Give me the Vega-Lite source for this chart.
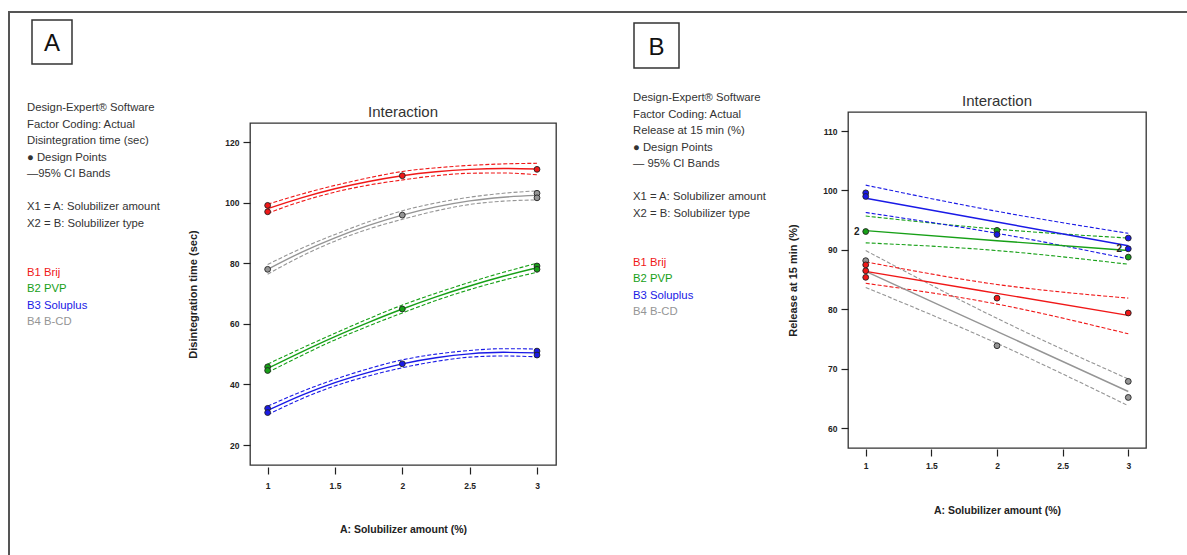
{
  "$schema": "https://vega.github.io/schema/vega-lite/v6.json",
  "padding": {"left": 8, "top": 11, "right": 0, "bottom": 0},
  "background": "white",
  "config": {
    "view": {"stroke": null},
    "font": "Liberation Sans",
    "axis": {"grid": false, "domain": false, "tickColor": "#222", "tickWidth": 1.2, "tickSize": 7, "labelFont": "Liberation Sans", "labelFontWeight": "bold", "labelFontSize": 8.5, "labelColor": "#222", "titleFont": "Liberation Sans", "titleFontWeight": "bold", "titleFontSize": 10.5, "titleColor": "#222"},
    "axisY": {"titleFontSize": 11},
    "title": {"font": "Liberation Sans", "fontSize": 15, "fontWeight": "normal", "color": "#333", "offset": 3}
  },
  "datasets": {
    "legendA": [
      {"line": 0, "text": "Design-Expert® Software", "s": "info"},
      {"line": 1, "text": "Factor Coding: Actual", "s": "info"},
      {"line": 2, "text": "Disintegration time (sec)", "s": "info"},
      {"line": 3, "text": "● Design Points", "s": "info"},
      {"line": 4, "text": "—95% CI Bands", "s": "info"},
      {"line": 6, "text": "X1 = A: Solubilizer amount", "s": "info"},
      {"line": 7, "text": "X2 = B: Solubilizer type", "s": "info"},
      {"line": 10, "text": "B1 Brij", "s": "B1 Brij"},
      {"line": 11, "text": "B2 PVP", "s": "B2 PVP"},
      {"line": 12, "text": "B3 Soluplus", "s": "B3 Soluplus"},
      {"line": 13, "text": "B4 B-CD", "s": "B4 B-CD"}
    ],
    "legendB": [
      {"line": 0, "text": "Design-Expert® Software", "s": "info"},
      {"line": 1, "text": "Factor Coding: Actual", "s": "info"},
      {"line": 2, "text": "Release at 15 min (%)", "s": "info"},
      {"line": 3, "text": "● Design Points", "s": "info"},
      {"line": 4, "text": "— 95% CI Bands", "s": "info"},
      {"line": 6, "text": "X1 = A: Solubilizer amount", "s": "info"},
      {"line": 7, "text": "X2 = B: Solubilizer type", "s": "info"},
      {"line": 10, "text": "B1 Brij", "s": "B1 Brij"},
      {"line": 11, "text": "B2 PVP", "s": "B2 PVP"},
      {"line": 12, "text": "B3 Soluplus", "s": "B3 Soluplus"},
      {"line": 13, "text": "B4 B-CD", "s": "B4 B-CD"}
    ],
    "curveA": [
      {"s": "B1 Brij", "x": 1, "fit": 98.0, "lo": 96.5, "hi": 99.5},
      {"s": "B1 Brij", "x": 1.25, "fit": 101.6, "lo": 100.4, "hi": 102.8},
      {"s": "B1 Brij", "x": 1.5, "fit": 104.6, "lo": 103.5, "hi": 105.7},
      {"s": "B1 Brij", "x": 1.75, "fit": 107.0, "lo": 105.8, "hi": 108.2},
      {"s": "B1 Brij", "x": 2, "fit": 108.9, "lo": 107.5, "hi": 110.3},
      {"s": "B1 Brij", "x": 2.25, "fit": 110.2, "lo": 108.9, "hi": 111.5},
      {"s": "B1 Brij", "x": 2.5, "fit": 111.0, "lo": 109.7, "hi": 112.3},
      {"s": "B1 Brij", "x": 2.75, "fit": 111.3, "lo": 109.8, "hi": 112.8},
      {"s": "B1 Brij", "x": 3, "fit": 111.1, "lo": 109.2, "hi": 113.0},
      {"s": "B4 B-CD", "x": 1, "fit": 78.0, "lo": 76.4, "hi": 79.6},
      {"s": "B4 B-CD", "x": 1.25, "fit": 83.6, "lo": 82.3, "hi": 84.9},
      {"s": "B4 B-CD", "x": 1.5, "fit": 88.4, "lo": 87.3, "hi": 89.5},
      {"s": "B4 B-CD", "x": 1.75, "fit": 92.5, "lo": 91.3, "hi": 93.7},
      {"s": "B4 B-CD", "x": 2, "fit": 95.9, "lo": 94.5, "hi": 97.3},
      {"s": "B4 B-CD", "x": 2.25, "fit": 98.6, "lo": 97.3, "hi": 99.9},
      {"s": "B4 B-CD", "x": 2.5, "fit": 100.6, "lo": 99.4, "hi": 101.8},
      {"s": "B4 B-CD", "x": 2.75, "fit": 101.8, "lo": 100.5, "hi": 103.1},
      {"s": "B4 B-CD", "x": 3, "fit": 102.4, "lo": 100.9, "hi": 103.9},
      {"s": "B2 PVP", "x": 1, "fit": 45.3, "lo": 43.9, "hi": 46.7},
      {"s": "B2 PVP", "x": 1.25, "fit": 50.7, "lo": 49.5, "hi": 51.9},
      {"s": "B2 PVP", "x": 1.5, "fit": 55.8, "lo": 54.7, "hi": 56.9},
      {"s": "B2 PVP", "x": 1.75, "fit": 60.5, "lo": 59.3, "hi": 61.7},
      {"s": "B2 PVP", "x": 2, "fit": 64.9, "lo": 63.6, "hi": 66.2},
      {"s": "B2 PVP", "x": 2.25, "fit": 68.9, "lo": 67.7, "hi": 70.1},
      {"s": "B2 PVP", "x": 2.5, "fit": 72.5, "lo": 71.3, "hi": 73.7},
      {"s": "B2 PVP", "x": 2.75, "fit": 75.7, "lo": 74.4, "hi": 77.0},
      {"s": "B2 PVP", "x": 3, "fit": 78.5, "lo": 77.0, "hi": 80.0},
      {"s": "B3 Soluplus", "x": 1, "fit": 31.4, "lo": 30.0, "hi": 32.8},
      {"s": "B3 Soluplus", "x": 1.25, "fit": 36.4, "lo": 35.2, "hi": 37.6},
      {"s": "B3 Soluplus", "x": 1.5, "fit": 40.6, "lo": 39.5, "hi": 41.7},
      {"s": "B3 Soluplus", "x": 1.75, "fit": 44.0, "lo": 42.8, "hi": 45.2},
      {"s": "B3 Soluplus", "x": 2, "fit": 46.8, "lo": 45.5, "hi": 48.1},
      {"s": "B3 Soluplus", "x": 2.25, "fit": 48.8, "lo": 47.6, "hi": 50.0},
      {"s": "B3 Soluplus", "x": 2.5, "fit": 50.1, "lo": 49.0, "hi": 51.2},
      {"s": "B3 Soluplus", "x": 2.75, "fit": 50.6, "lo": 49.4, "hi": 51.8},
      {"s": "B3 Soluplus", "x": 3, "fit": 50.4, "lo": 49.1, "hi": 51.7}
    ],
    "pointsA": [
      {"s": "B4 B-CD", "x": 1, "v": 78.0},
      {"s": "B4 B-CD", "x": 2, "v": 95.9},
      {"s": "B4 B-CD", "x": 3, "v": 103.1},
      {"s": "B4 B-CD", "x": 3, "v": 101.6},
      {"s": "B1 Brij", "x": 1, "v": 99.1},
      {"s": "B1 Brij", "x": 1, "v": 97.0},
      {"s": "B1 Brij", "x": 2, "v": 108.9},
      {"s": "B1 Brij", "x": 3, "v": 111.0},
      {"s": "B2 PVP", "x": 1, "v": 45.8},
      {"s": "B2 PVP", "x": 1, "v": 44.6},
      {"s": "B2 PVP", "x": 2, "v": 64.9},
      {"s": "B2 PVP", "x": 3, "v": 79.1},
      {"s": "B2 PVP", "x": 3, "v": 78.0},
      {"s": "B3 Soluplus", "x": 1, "v": 32.1},
      {"s": "B3 Soluplus", "x": 1, "v": 30.7},
      {"s": "B3 Soluplus", "x": 2, "v": 46.8},
      {"s": "B3 Soluplus", "x": 3, "v": 51.0},
      {"s": "B3 Soluplus", "x": 3, "v": 49.7}
    ],
    "curveB": [
      {"s": "B4 B-CD", "x": 1, "fit": 86.4, "lo": 83.7, "hi": 89.9},
      {"s": "B4 B-CD", "x": 2, "fit": 76.3, "lo": 74.3, "hi": 78.5},
      {"s": "B4 B-CD", "x": 3, "fit": 66.2, "lo": 63.8, "hi": 68.3},
      {"s": "B1 Brij", "x": 1, "fit": 86.4, "lo": 84.4, "hi": 88.0},
      {"s": "B1 Brij", "x": 2, "fit": 82.7, "lo": 80.9, "hi": 84.2},
      {"s": "B1 Brij", "x": 3, "fit": 79.0, "lo": 75.9, "hi": 81.9},
      {"s": "B2 PVP", "x": 1, "fit": 93.25, "lo": 91.2, "hi": 95.7},
      {"s": "B2 PVP", "x": 2, "fit": 91.55, "lo": 89.9, "hi": 93.5},
      {"s": "B2 PVP", "x": 3, "fit": 89.9, "lo": 87.6, "hi": 92.0},
      {"s": "B3 Soluplus", "x": 1, "fit": 98.7, "lo": 96.3, "hi": 100.9},
      {"s": "B3 Soluplus", "x": 2, "fit": 94.7, "lo": 92.8, "hi": 96.5},
      {"s": "B3 Soluplus", "x": 3, "fit": 90.7, "lo": 88.5, "hi": 92.8}
    ],
    "pointsB": [
      {"s": "B4 B-CD", "x": 1, "v": 88.2},
      {"s": "B4 B-CD", "x": 2, "v": 73.9},
      {"s": "B4 B-CD", "x": 3, "v": 67.9},
      {"s": "B4 B-CD", "x": 3, "v": 65.2},
      {"s": "B1 Brij", "x": 1, "v": 87.5},
      {"s": "B1 Brij", "x": 1, "v": 86.5},
      {"s": "B1 Brij", "x": 1, "v": 85.4},
      {"s": "B1 Brij", "x": 2, "v": 81.9},
      {"s": "B1 Brij", "x": 3, "v": 79.4},
      {"s": "B2 PVP", "x": 1, "v": 93.1},
      {"s": "B2 PVP", "x": 2, "v": 93.3},
      {"s": "B2 PVP", "x": 3, "v": 88.8},
      {"s": "B3 Soluplus", "x": 1, "v": 99.6},
      {"s": "B3 Soluplus", "x": 1, "v": 99.0},
      {"s": "B3 Soluplus", "x": 2, "v": 92.6},
      {"s": "B3 Soluplus", "x": 3, "v": 92.0},
      {"s": "B3 Soluplus", "x": 3, "v": 90.2}
    ],
    "dupB": [
      {"x": 1, "v": 93.1, "label": "2"},
      {"x": 3, "v": 90.2, "label": "2"}
    ]
  },
  "spacing": 0,
  "hconcat": [
    {"width": 2, "height": 544, "data": {"values": []}, "mark": "point", "view": {"fill": "#555555", "stroke": null}},
    {
      "spacing": 6,
      "vconcat": [
        {"width": 1177, "height": 2, "data": {"values": []}, "mark": "point", "view": {"fill": "#555555", "stroke": null}},
        {
          "spacing": 0,
          "hconcat": [
            {"width": 21, "height": 1, "data": {"values": []}, "mark": "point"},
            {"width": 40, "height": 44, "view": {"stroke": "#333333", "strokeWidth": 1.5},
             "data": {"values": [{"label": "A"}]},
             "mark": {"type": "text", "font": "Liberation Sans", "fontSize": 24, "color": "#111111", "align": "center", "baseline": "middle", "dy": 2},
             "encoding": {"text": {"field": "label"}}},
            {"width": 560, "height": 1, "data": {"values": []}, "mark": "point"},
            {
              "spacing": 1,
              "vconcat": [
                {"width": 1, "height": 1, "data": {"values": []}, "mark": "point"},
                {"width": 45, "height": 45, "view": {"stroke": "#333333", "strokeWidth": 1.5},
                 "data": {"values": [{"label": "B"}]},
                 "mark": {"type": "text", "font": "Liberation Sans", "fontSize": 24, "color": "#111111", "align": "center", "baseline": "middle", "dy": 2},
                 "encoding": {"text": {"field": "label"}}},
                {"width": 1, "height": 16, "data": {"values": []}, "mark": "point"}
              ]
            }
          ]
        },
        {
          "spacing": 0,
          "hconcat": [
            {"width": 17, "height": 1, "data": {"values": []}, "mark": "point"},
            {"width": 158.5, "height": 240, "data": {"name": "legendA"},
             "mark": {"type": "text", "align": "left", "baseline": "middle", "font": "Liberation Sans", "fontSize": 11.3},
             "encoding": {
               "x": {"datum": 0, "type": "quantitative", "scale": {"domain": [0, 1], "nice": false}, "axis": null},
               "y": {"field": "line", "type": "quantitative", "scale": {"domain": [-0.97, 13.576], "nice": false, "zero": false, "reverse": true}, "axis": null},
               "text": {"field": "text"},
               "color": {"field": "s", "type": "nominal", "scale": {"domain": ["B1 Brij", "B2 PVP", "B3 Soluplus", "B4 B-CD", "info"], "range": ["#f01818", "#17a017", "#1a1ae6", "#959595", "#333333"]}, "legend": null}
             }},
            {
              "spacing": 11,
              "vconcat": [
                {"width": 1, "height": 1, "data": {"values": []}, "mark": "point"},
                {
                  "width": 306, "height": 342,
                  "view": {"stroke": "#333333", "strokeWidth": 1.3},
                  "title": {"text": "Interaction"},
                  "encoding": {
                    "x": {"field": "x", "type": "quantitative", "scale": {"domain": [0.869, 3.141], "nice": false, "zero": false},
                          "axis": {"title": "A: Solubilizer amount (%)", "values": [1, 1.5, 2, 2.5, 3], "format": "~g", "offset": 2, "labelPadding": 7, "minExtent": 23, "maxExtent": 23, "titlePadding": 34}},
                    "y": {"field": "v", "type": "quantitative", "scale": {"domain": [13.4, 126.3], "nice": false, "zero": false},
                          "axis": {"title": "Disintegration time (sec)", "values": [20, 40, 60, 80, 100, 120], "format": "d", "labelPadding": 4, "minExtent": 26, "maxExtent": 26, "titlePadding": 26}},
                    "color": {"field": "s", "type": "nominal", "scale": {"domain": ["B1 Brij", "B2 PVP", "B3 Soluplus", "B4 B-CD", "info"], "range": ["#f01818", "#17a017", "#1a1ae6", "#959595", "#333333"]}, "legend": null}
                  },
                  "layer": [
                    {"data": {"name": "curveA"},
                     "transform": [{"fold": ["fit", "lo", "hi"], "as": ["band", "v"]}, {"filter": "datum.band !== 'fit'"}],
                     "mark": {"type": "line", "strokeWidth": 1.1, "strokeDash": [4, 2], "interpolate": "monotone"},
                     "encoding": {"detail": {"field": "band"}}},
                    {"data": {"name": "curveA"},
                     "transform": [{"fold": ["fit", "lo", "hi"], "as": ["band", "v"]}, {"filter": "datum.band === 'fit'"}],
                     "mark": {"type": "line", "strokeWidth": 1.4, "interpolate": "monotone"}},
                    {"data": {"name": "pointsA"},
                     "mark": {"type": "point", "shape": "circle", "filled": true, "size": 34, "stroke": "#222222", "strokeWidth": 0.9, "opacity": 1}},
                    {"data": {"values": [{"label": "B: Solubilizer type"}]},
                     "mark": {"type": "text", "font": "Liberation Sans", "fontWeight": "bold", "fontSize": 9.5, "baseline": "middle"},
                     "encoding": {"x": {"datum": 2}, "y": {"datum": 122.3}, "text": {"field": "label"}, "color": {"value": "#222222"}}}
                  ]
                }
              ]
            },
            {"width": 76, "height": 1, "data": {"values": []}, "mark": "point"},
            {"width": 152.5, "height": 240, "data": {"name": "legendB"},
             "mark": {"type": "text", "align": "left", "baseline": "middle", "font": "Liberation Sans", "fontSize": 11.3},
             "encoding": {
               "x": {"datum": 0, "type": "quantitative", "scale": {"domain": [0, 1], "nice": false}, "axis": null},
               "y": {"field": "line", "type": "quantitative", "scale": {"domain": [-0.364, 14.182], "nice": false, "zero": false, "reverse": true}, "axis": null},
               "text": {"field": "text"},
               "color": {"field": "s", "type": "nominal", "scale": {"domain": ["B1 Brij", "B2 PVP", "B3 Soluplus", "B4 B-CD", "info"], "range": ["#f01818", "#17a017", "#1a1ae6", "#959595", "#333333"]}, "legend": null}
             }},
            {
              "spacing": 0,
              "vconcat": [
                {"width": 1, "height": 1, "data": {"values": []}, "mark": "point"},
                {
                  "width": 298, "height": 336,
                  "view": {"stroke": "#333333", "strokeWidth": 1.3},
                  "title": {"text": "Interaction"},
                  "encoding": {
                    "x": {"field": "x", "type": "quantitative", "scale": {"domain": [0.865, 3.135], "nice": false, "zero": false},
                          "axis": {"title": "A: Solubilizer amount (%)", "values": [1, 1.5, 2, 2.5, 3], "format": "~g", "offset": 1, "labelPadding": 5, "minExtent": 24, "maxExtent": 24, "titlePadding": 32}},
                    "y": {"field": "v", "type": "quantitative", "scale": {"domain": [56.7, 113.2], "nice": false, "zero": false},
                          "axis": {"title": "Release at 15 min (%)", "values": [60, 70, 80, 90, 100, 110], "format": "d", "labelPadding": 4, "minExtent": 26, "maxExtent": 26, "titlePadding": 24}},
                    "color": {"field": "s", "type": "nominal", "scale": {"domain": ["B1 Brij", "B2 PVP", "B3 Soluplus", "B4 B-CD", "info"], "range": ["#f01818", "#17a017", "#1a1ae6", "#959595", "#333333"]}, "legend": null}
                  },
                  "layer": [
                    {"data": {"name": "curveB"},
                     "transform": [{"fold": ["fit", "lo", "hi"], "as": ["band", "v"]}, {"filter": "datum.band !== 'fit'"}],
                     "mark": {"type": "line", "strokeWidth": 1.1, "strokeDash": [4, 2], "interpolate": "monotone"},
                     "encoding": {"detail": {"field": "band"}}},
                    {"data": {"name": "curveB"},
                     "transform": [{"fold": ["fit", "lo", "hi"], "as": ["band", "v"]}, {"filter": "datum.band === 'fit'"}],
                     "mark": {"type": "line", "strokeWidth": 1.4, "interpolate": "monotone"}},
                    {"data": {"name": "pointsB"},
                     "mark": {"type": "point", "shape": "circle", "filled": true, "size": 34, "stroke": "#222222", "strokeWidth": 0.9, "opacity": 1}},
                    {"data": {"name": "dupB"},
                     "mark": {"type": "text", "font": "Liberation Sans", "fontWeight": "bold", "fontSize": 10, "dx": -9, "baseline": "middle"},
                     "encoding": {"text": {"field": "label"}, "color": {"value": "#222222"}}},
                    {"data": {"values": [{"label": "B: Solubilizer type"}]},
                     "mark": {"type": "text", "font": "Liberation Sans", "fontWeight": "bold", "fontSize": 9.5, "baseline": "middle"},
                     "encoding": {"x": {"datum": 2}, "y": {"datum": 111.2}, "text": {"field": "label"}, "color": {"value": "#222222"}}}
                  ]
                }
              ]
            }
          ]
        }
      ]
    }
  ]
}
